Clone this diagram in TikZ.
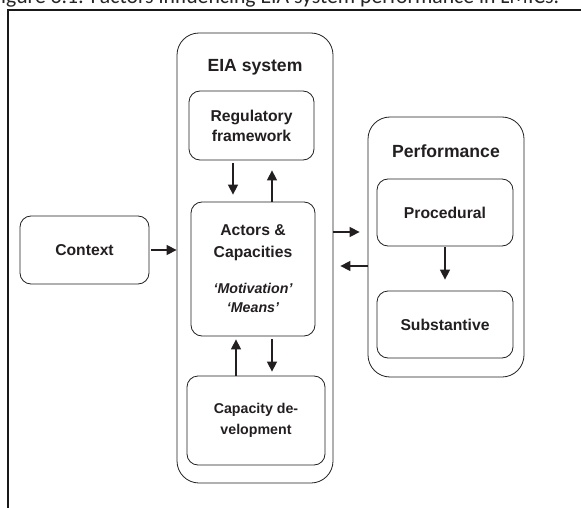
\documentclass[tikz,border=0pt]{standalone}
\usepackage{fontspec}
\setmainfont{Liberation Sans}
\newfontfamily\capfont{Carlito}
\usetikzlibrary{arrows.meta}
\definecolor{ink}{HTML}{231F20}
\begin{document}
\begin{tikzpicture}[x=1pt,y=-1pt,
  box/.style={draw=ink, line width=0.8pt, rounded corners=11pt, inner sep=0pt, text=ink, font=\bfseries\fontsize{15.7}{20}\selectfont, align=center},
  bigbox/.style={draw=ink, line width=0.8pt, rounded corners=22pt, inner sep=0pt},
  title/.style={text=ink, font=\bfseries\fontsize{17.6}{21}\selectfont, inner sep=0pt},
  lbl/.style={text=ink, inner sep=0pt, align=center},
  arr/.style={draw=ink, line width=1.5pt, -{Triangle[length=10pt,width=10pt]}}]
\useasboundingbox (0,0) rectangle (581,508);
% caption and frame
\node[anchor=base west, inner sep=0pt, text=black!85, font=\capfont\fontsize{21.7}{24}\selectfont] (cap) at (-9,4) {Figure 3.1: Factors influencing EIA system performance in LMICs.};
\draw[line width=1.7pt, black!90] (8,520) -- (8,10) -- (590,10);
% EIA system
\node[bigbox, minimum width=156pt, minimum height=450pt] (eia) at (255,258) {};
\node[title] (eiat) at (255,67) {EIA system};
\node[box, minimum width=125pt, minimum height=69pt] (reg) at (251.5,125.5) {Regulatory\\framework};
\node[box, minimum width=124pt, minimum height=134pt] (act) at (253,269) {};
\node[lbl, font=\bfseries\fontsize{15.7}{22}\selectfont] (actt) at (253,243) {Actors \&\\Capacities};
\node[lbl, font=\bfseries\itshape\fontsize{14.2}{19}\selectfont] (actm) at (253,297.5) {‘Motivation’\\‘Means’};
\node[box, minimum width=138pt, minimum height=89pt, font=\bfseries\fontsize{14.2}{21}\selectfont] (cap2) at (256,420.5) {Capacity de-\\velopment};
% context
\node[box, minimum width=129pt, minimum height=68pt] (ctx) at (84.5,250) {Context};
% performance
\node[bigbox, minimum width=156pt, minimum height=260pt] (perf) at (446,247) {};
\node[title] (perft) at (446,151) {Performance};
\node[box, minimum width=136pt, minimum height=67pt] (proc) at (445,212.5) {Procedural};
\node[box, minimum width=136pt, minimum height=67pt] (subs) at (445,324.5) {Substantive};
% arrows
\draw[arr, shorten <=3pt, shorten >=7pt] ([xshift=-18.5pt]reg.south) -- ([xshift=-18.5pt]reg.south |- act.north);
\draw[arr, shorten >=10pt] ([xshift=20.5pt]reg.south |- act.north) -- ([xshift=20.5pt]reg.south);
\draw[arr, shorten >=3pt] ([xshift=-17pt]act.south |- cap2.north) -- ([xshift=-17pt]act.south);
\draw[arr, shorten <=3pt, shorten >=4pt] ([xshift=19pt]act.south) -- ([xshift=19pt]act.south |- cap2.north);
\draw[arr, shorten <=2pt] (ctx.east) -- (ctx.east -| eia.west);
\draw[arr, shorten >=8pt] ([yshift=37pt]eia.east |- act.center) -- ([yshift=37pt]perf.west |- act.center);
\draw[arr, shorten >=7pt] ([yshift=3pt]perf.west |- act.center) -- ([yshift=3pt]eia.east |- act.center);
\draw[arr, shorten <=1pt, shorten >=11pt] (proc.south) -- (subs.north);
\end{tikzpicture}
\end{document}
